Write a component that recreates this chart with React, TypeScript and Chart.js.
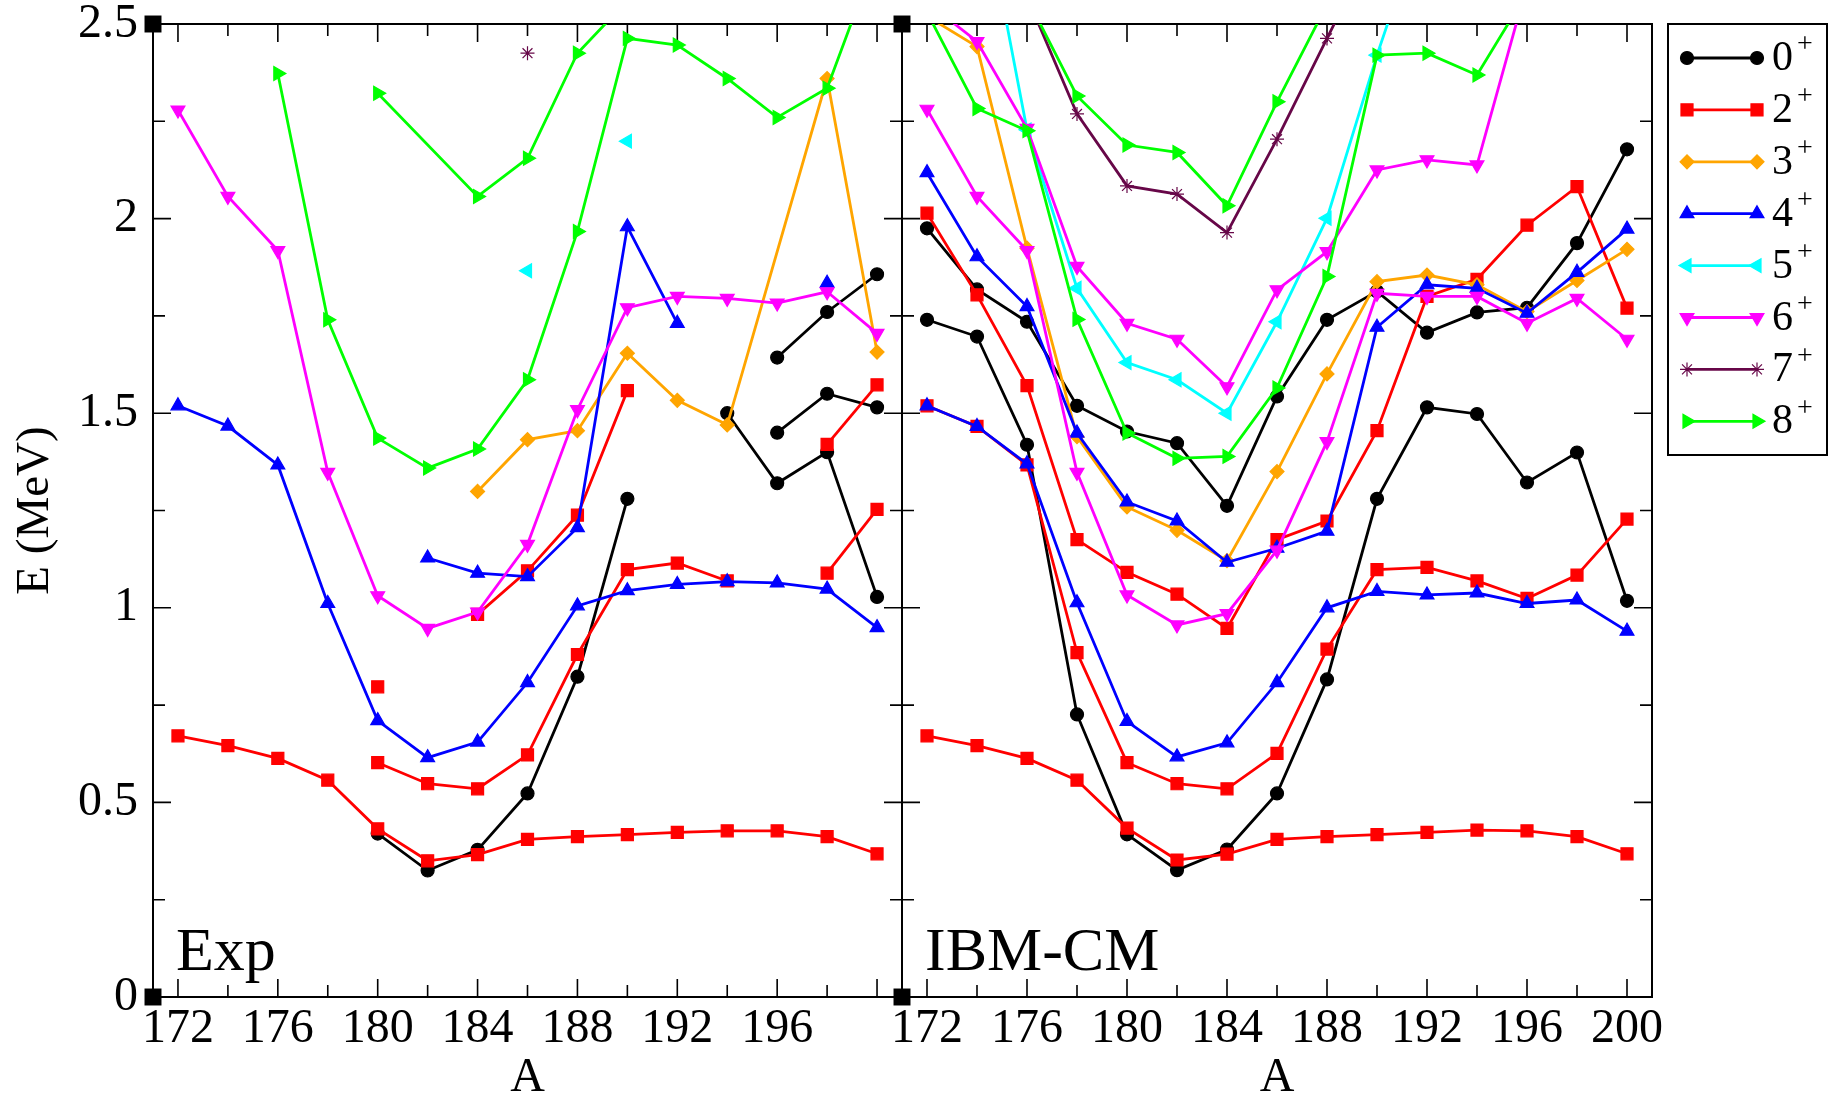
import React, { useEffect, useRef } from "react";
import { Chart, registerables } from "chart.js";
import { drawPoint } from "chart.js/helpers";

Chart.register(...registerables);

const FONT = "'Liberation Serif', 'Times New Roman', Times, serif";

// ---------- axes ----------
const A_ALL = [172, 174, 176, 178, 180, 182, 184, 186, 188, 190, 192, 194, 196, 198, 200];
const X_TICK_LABELS_EXP = [172, 176, 180, 184, 188, 192, 196];
const X_TICK_LABELS_IBM = [172, 176, 180, 184, 188, 192, 196, 200];
const X_TICK_MARKS = [172, 174, 176, 178, 180, 182, 184, 186, 188, 190, 192, 194, 196, 198, 200];
const Y_TICK_LABELS = [0, 0.5, 1, 1.5, 2, 2.5];
const Y_TICK_MARKS = [0.25, 0.5, 0.75, 1, 1.25, 1.5, 1.75, 2, 2.25];
const X_RANGE = [171, 201];
const Y_RANGE = [0, 2.5];
const SPIN_LABELS = ["0", "2", "3", "4", "5", "6", "7", "8"];
const CORNER_A = [171, 171];
const CORNER_E = [0, 2.5];

// ---------- Exp ----------
const exp0aA = [180, 182, 184, 186, 188, 190];
const exp0aE = [0.42, 0.325, 0.378, 0.523, 0.823, 1.28];
const exp0bA = [194, 196, 198, 200];
const exp0bE = [1.5, 1.32, 1.4, 1.028];
const exp0cA = [196, 198, 200];
const exp0cE = [1.45, 1.55, 1.515];
const exp0dA = [196, 198, 200];
const exp0dE = [1.643, 1.76, 1.857];

const exp2aE = [0.671, 0.646, 0.613, 0.557, 0.432, 0.35, 0.366, 0.405, 0.412, 0.417, 0.423, 0.427, 0.427, 0.412, 0.368];
const exp2bA = [180, 182, 184, 186, 188, 190, 192, 194];
const exp2bE = [0.602, 0.548, 0.535, 0.622, 0.88, 1.098, 1.115, 1.069];
const exp2cA = [180];
const exp2cE = [0.797];
const exp2dA = [184, 186, 188, 190];
const exp2dE = [0.983, 1.095, 1.238, 1.558];
const exp2eA = [198, 200];
const exp2eE = [1.089, 1.253];
const exp2fA = [198, 200];
const exp2fE = [1.42, 1.573];

const exp3A = [184, 186, 188, 190, 192, 194, 198, 200];
const exp3E = [1.299, 1.432, 1.455, 1.654, 1.533, 1.47, 2.36, 1.657];

const exp4aE = [1.519, 1.467, 1.367, 1.011, 0.71, 0.615, 0.655, 0.808, 1.005, 1.044, 1.06, 1.067, 1.064, 1.048, 0.949];
const exp4bA = [182, 184, 186, 188, 190, 192];
const exp4bE = [1.128, 1.089, 1.08, 1.206, 1.979, 1.731];
const exp4cA = [198];
const exp4cE = [1.834];

const exp5A = [186, 190];
const exp5E = [1.866, 2.199];

const exp6E = [2.279, 2.057, 1.918, 1.348, 1.031, 0.947, 0.989, 1.163, 1.509, 1.771, 1.8, 1.795, 1.783, 1.812, 1.705];

const exp7A = [186];
const exp7E = [2.425];

const exp8aA = [176, 178, 180, 182, 184, 186, 188, 190, 192, 194, 196, 198, 200];
const exp8aE = [2.373, 1.74, 1.436, 1.359, 1.408, 1.586, 1.967, 2.463, 2.446, 2.36, 2.26, 2.335, 2.68];
const exp8bA = [180, 184, 186, 188, 190];
const exp8bE = [2.322, 2.057, 2.155, 2.425, 2.56];

// ---------- IBM-CM ----------
const ibm0aE = [1.74, 1.697, 1.419, 0.726, 0.418, 0.326, 0.379, 0.523, 0.816, 1.28, 1.515, 1.498, 1.322, 1.399, 1.018];
const ibm0bE = [1.975, 1.818, 1.735, 1.519, 1.453, 1.423, 1.262, 1.543, 1.74, 1.813, 1.707, 1.759, 1.771, 1.937, 2.178];
const ibm2aE = [0.671, 0.646, 0.613, 0.557, 0.434, 0.352, 0.367, 0.405, 0.412, 0.417, 0.423, 0.429, 0.427, 0.412, 0.368];
const ibm2bE = [2.014, 1.804, 1.571, 1.175, 1.091, 1.035, 0.947, 1.175, 1.223, 1.455, 1.8, 1.844, 1.983, 2.082, 1.77];
const ibm2cE = [1.519, 1.466, 1.367, 0.885, 0.602, 0.548, 0.535, 0.626, 0.894, 1.098, 1.104, 1.069, 1.024, 1.084, 1.228];
const ibm3E = [2.52, 2.442, 1.924, 1.44, 1.259, 1.199, 1.121, 1.35, 1.601, 1.838, 1.855, 1.83, 1.761, 1.841, 1.921];
const ibm4aE = [2.118, 1.902, 1.774, 1.449, 1.272, 1.223, 1.117, 1.153, 1.197, 1.721, 1.83, 1.821, 1.757, 1.862, 1.973];
const ibm4bE = [1.519, 1.466, 1.37, 1.013, 0.708, 0.617, 0.653, 0.808, 1.0, 1.042, 1.033, 1.038, 1.011, 1.02, 0.94];
const ibm5A = [174, 176, 178, 180, 182, 184, 186, 188, 190, 192];
const ibm5E = [2.9, 2.228, 1.821, 1.63, 1.586, 1.5, 1.735, 2.001, 2.42, 2.8];
const ibm6aA = [172, 174, 176, 178, 180, 182, 184, 186, 188, 190, 192, 194, 196];
const ibm6aE = [2.556, 2.455, 2.232, 1.877, 1.731, 1.69, 1.568, 1.817, 1.915, 2.125, 2.151, 2.138, 2.6];
const ibm6bE = [2.281, 2.057, 1.918, 1.348, 1.033, 0.956, 0.985, 1.148, 1.427, 1.808, 1.8, 1.8, 1.731, 1.795, 1.69];
const ibm7A = [176, 178, 180, 182, 184, 186, 188, 190];
const ibm7E = [2.57, 2.269, 2.084, 2.063, 1.964, 2.204, 2.463, 2.72];
const ibm8aA = [172, 174, 176, 178, 180, 182, 184, 186, 188, 190, 192, 194, 196];
const ibm8aE = [2.53, 2.283, 2.226, 1.741, 1.449, 1.384, 1.389, 1.565, 1.851, 2.42, 2.425, 2.369, 2.58];
const ibm8bA = [176, 178, 180, 182, 184, 186, 188];
const ibm8bE = [2.567, 2.315, 2.189, 2.17, 2.033, 2.3, 2.55];

// ---------- styles ----------
const STYLES: any = {
  "0": { color: "#000000", pointStyle: "circle", rotation: 0, radius: 6.5 },
  "2": { color: "#ff0000", pointStyle: "rect", rotation: 0, radius: 8.5 },
  "3": { color: "#ffa500", pointStyle: "rectRot", rotation: 0, radius: 7 },
  "4": { color: "#0000ff", pointStyle: "triangle", rotation: 0, radius: 8 },
  "5": { color: "#00ffff", pointStyle: "triangle", rotation: 270, radius: 8 },
  "6": { color: "#ff00ff", pointStyle: "triangle", rotation: 180, radius: 8 },
  "7": { color: "#670748", pointStyle: "star", rotation: 0, radius: 7 },
  "8": { color: "#00ff00", pointStyle: "triangle", rotation: 90, radius: 8 },
};

type Series = { spin: string; A: number[]; E: number[]; line?: boolean };

const EXP_SERIES: Series[] = [
  { spin: "8", A: exp8aA, E: exp8aE },
  { spin: "8", A: exp8bA, E: exp8bE },
  { spin: "7", A: exp7A, E: exp7E, line: false },
  { spin: "6", A: A_ALL, E: exp6E },
  { spin: "5", A: exp5A, E: exp5E, line: false },
  { spin: "4", A: A_ALL, E: exp4aE },
  { spin: "4", A: exp4bA, E: exp4bE },
  { spin: "4", A: exp4cA, E: exp4cE, line: false },
  { spin: "3", A: exp3A, E: exp3E },
  { spin: "2", A: A_ALL, E: exp2aE },
  { spin: "2", A: exp2bA, E: exp2bE },
  { spin: "2", A: exp2cA, E: exp2cE, line: false },
  { spin: "2", A: exp2dA, E: exp2dE },
  { spin: "2", A: exp2eA, E: exp2eE },
  { spin: "2", A: exp2fA, E: exp2fE },
  { spin: "0", A: exp0aA, E: exp0aE },
  { spin: "0", A: exp0bA, E: exp0bE },
  { spin: "0", A: exp0cA, E: exp0cE },
  { spin: "0", A: exp0dA, E: exp0dE },
];

const IBM_SERIES: Series[] = [
  { spin: "8", A: ibm8aA, E: ibm8aE },
  { spin: "8", A: ibm8bA, E: ibm8bE },
  { spin: "7", A: ibm7A, E: ibm7E },
  { spin: "6", A: ibm6aA, E: ibm6aE },
  { spin: "6", A: A_ALL, E: ibm6bE },
  { spin: "5", A: ibm5A, E: ibm5E },
  { spin: "4", A: A_ALL, E: ibm4aE },
  { spin: "4", A: A_ALL, E: ibm4bE },
  { spin: "3", A: A_ALL, E: ibm3E },
  { spin: "2", A: A_ALL, E: ibm2aE },
  { spin: "2", A: A_ALL, E: ibm2bE },
  { spin: "2", A: A_ALL, E: ibm2cE },
  { spin: "0", A: A_ALL, E: ibm0aE },
  { spin: "0", A: A_ALL, E: ibm0bE },
];

function isMajorX(v: number) {
  return X_TICK_LABELS_IBM.includes(v);
}
function isMajorY(v: number) {
  return Y_TICK_LABELS.some((t) => Math.abs(t - v) < 1e-9);
}

function drawLegend(chart: any) {
  const { ctx, chartArea } = chart;
  const bx = chartArea.right + 16;
  const by = chartArea.top;
  const bw = 159;
  const bh = 431;
  ctx.save();
  ctx.strokeStyle = "#000";
  ctx.lineWidth = 2;
  ctx.strokeRect(bx, by, bw, bh);
  SPIN_LABELS.forEach((sp, i) => {
    const st = STYLES[sp];
    const y = by + 34 + i * 51.9;
    const x1 = bx + 19;
    const x2 = bx + 89;
    ctx.strokeStyle = st.color;
    ctx.fillStyle = st.color;
    ctx.lineWidth = 2.8;
    ctx.beginPath();
    ctx.moveTo(x1, y);
    ctx.lineTo(x2, y);
    ctx.stroke();
    ctx.lineWidth = 1.2;
    const opts = { pointStyle: st.pointStyle, rotation: st.rotation, radius: st.radius, borderWidth: 1.2 };
    drawPoint(ctx, opts as any, x1, y);
    drawPoint(ctx, opts as any, x2, y);
    ctx.fillStyle = "#000";
    ctx.textAlign = "left";
    ctx.textBaseline = "middle";
    ctx.font = `42px ${FONT}`;
    ctx.fillText(sp, bx + 104, y + 1);
    const w = ctx.measureText(sp).width;
    ctx.font = `28px ${FONT}`;
    ctx.fillText("+", bx + 104 + w + 4, y - 13);
  });
  ctx.restore();
}

function framePlugin(panelText: string, withLegend: boolean) {
  return {
    id: "frameTicks",
    beforeDatasetsDraw(chart: any) {
      const { ctx, chartArea } = chart;
      const { left, right, top, bottom } = chartArea;
      const xs = chart.scales.x;
      const ys = chart.scales.y;
      ctx.save();
      ctx.strokeStyle = "#000";
      ctx.lineWidth = 2;
      ctx.strokeRect(left, top, right - left, bottom - top);
      ctx.lineWidth = 1.6;
      ctx.beginPath();
      X_TICK_MARKS.forEach((v) => {
        const px = xs.getPixelForValue(v);
        const len = isMajorX(v) ? 18 : 12;
        ctx.moveTo(px, bottom);
        ctx.lineTo(px, bottom - len);
        ctx.moveTo(px, top);
        ctx.lineTo(px, top + len);
      });
      Y_TICK_MARKS.forEach((v) => {
        const py = ys.getPixelForValue(v);
        const len = isMajorY(v) ? 18 : 12;
        ctx.moveTo(left, py);
        ctx.lineTo(left + len, py);
        ctx.moveTo(right, py);
        ctx.lineTo(right - len, py);
      });
      ctx.stroke();
      ctx.fillStyle = "#000";
      ctx.font = `62px ${FONT}`;
      ctx.textAlign = "left";
      ctx.textBaseline = "alphabetic";
      ctx.fillText(panelText, left + 23, bottom - 27);
      ctx.restore();
    },
    afterDraw(chart: any) {
      if (withLegend) drawLegend(chart);
    },
  };
}

function buildConfig(series: Series[], xLabels: number[], panelText: string, isLeft: boolean): any {
  const datasets: any[] = [];
  datasets.push({
    label: "corners",
    data: CORNER_A.map((a, i) => ({ x: a, y: CORNER_E[i] })),
    showLine: false,
    pointStyle: "rect",
    pointRadius: 12,
    pointBackgroundColor: "#000",
    pointBorderColor: "#000",
    pointBorderWidth: 0,
    clip: false,
  });
  series.forEach((s) => {
    const st = STYLES[s.spin];
    datasets.push({
      label: s.spin + "+",
      data: s.A.map((a, i) => ({ x: a, y: s.E[i] })),
      showLine: s.line !== false,
      borderColor: st.color,
      backgroundColor: st.color,
      borderWidth: 2.8,
      pointStyle: st.pointStyle,
      pointRotation: st.rotation,
      pointRadius: st.radius,
      pointBackgroundColor: st.color,
      pointBorderColor: st.color,
      pointBorderWidth: 1.2,
      tension: 0,
      fill: false,
    });
  });

  return {
    type: "line",
    data: { datasets },
    options: {
      animation: false,
      responsive: false,
      events: [],
      layout: {
        padding: isLeft
          ? { left: 0, top: 24, right: 931, bottom: 0 }
          : { left: 0, top: 24, right: 181, bottom: 0 },
      },
      plugins: {
        legend: { display: false },
        tooltip: { enabled: false },
        title: { display: false },
      },
      scales: {
        x: {
          type: "linear",
          min: X_RANGE[0],
          max: X_RANGE[1],
          grid: { display: false, drawTicks: false },
          border: { display: false },
          afterBuildTicks: (sc: any) => {
            sc.ticks = xLabels.map((v) => ({ value: v }));
          },
          afterFit: (sc: any) => {
            sc.height = 102;
            sc.paddingLeft = 0;
            sc.paddingRight = 0;
          },
          ticks: {
            color: "#000",
            font: { family: FONT, size: 48, lineHeight: 1.2 },
            padding: 4,
            maxRotation: 0,
            minRotation: 0,
            autoSkip: false,
            callback: (v: any) => String(v),
          },
          title: {
            display: true,
            text: "A",
            color: "#000",
            font: { family: FONT, size: 48, lineHeight: 0.875 },
            padding: 0,
          },
        },
        y: {
          type: "linear",
          min: Y_RANGE[0],
          max: Y_RANGE[1],
          grid: { display: false, drawTicks: false },
          border: { display: false },
          afterBuildTicks: (sc: any) => {
            sc.ticks = Y_TICK_LABELS.map((v) => ({ value: v }));
          },
          afterFit: (sc: any) => {
            sc.width = isLeft ? 153 : 902;
            sc.paddingTop = 0;
            sc.paddingBottom = 0;
          },
          ticks: {
            display: isLeft,
            color: "#000",
            font: { family: FONT, size: 48, lineHeight: 1.2 },
            padding: 15,
            callback: (v: any) => String(v),
          },
          title: {
            display: isLeft,
            text: "E (MeV)",
            color: "#000",
            font: { family: FONT, size: 47, lineHeight: 1.2 },
            padding: { top: 7, bottom: 0 },
          },
        },
      },
    },
    plugins: [framePlugin(panelText, !isLeft)],
  };
}

export default function App() {
  const leftRef = useRef<HTMLCanvasElement>(null);
  const rightRef = useRef<HTMLCanvasElement>(null);

  useEffect(() => {
    const c1 = new Chart(leftRef.current as HTMLCanvasElement, buildConfig(EXP_SERIES, X_TICK_LABELS_EXP, "Exp", true));
    const c2 = new Chart(rightRef.current as HTMLCanvasElement, buildConfig(IBM_SERIES, X_TICK_LABELS_IBM, "IBM-CM", false));
    return () => {
      c1.destroy();
      c2.destroy();
    };
  }, []);

  const cs: React.CSSProperties = { position: "absolute", left: 0, top: 0, width: 1833, height: 1099 };
  return (
    <div style={{ position: "absolute", left: 0, top: 0, width: 1833, height: 1099, background: "#fff", overflow: "hidden" }}>
      <canvas ref={leftRef} width={1833} height={1099} style={cs} />
      <canvas ref={rightRef} width={1833} height={1099} style={cs} />
    </div>
  );
}
